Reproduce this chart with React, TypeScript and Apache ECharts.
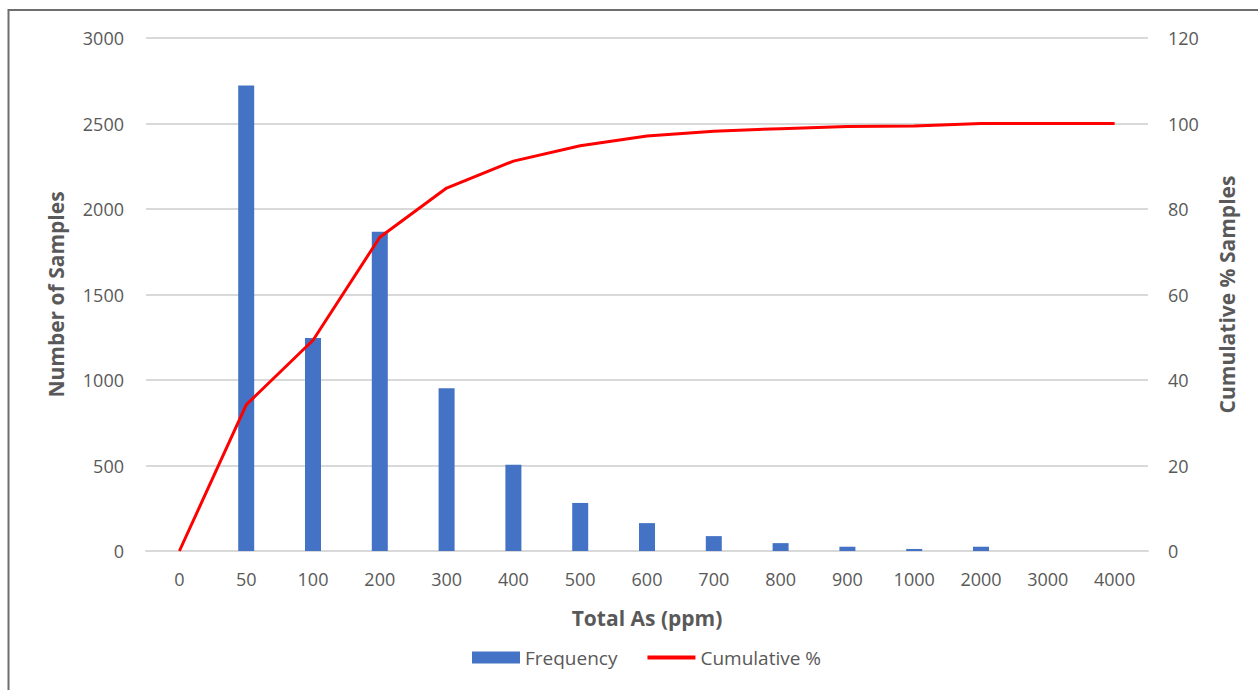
import React, { useEffect, useRef } from "react";
import * as echarts from "echarts";

// Total As (ppm) bins
const categories = ["0", "50", "100", "200", "300", "400", "500", "600", "700", "800", "900", "1000", "2000", "3000", "4000"];
// Number of samples in each bin
const frequency = [0, 2722, 1246, 1867, 952, 505, 281, 163, 87, 46, 25, 12, 25, 0, 0];
// Cumulative percentage of samples
const cumulative = [0, 34.2, 49.3, 73.4, 84.9, 91.2, 94.8, 97.1, 98.2, 98.8, 99.3, 99.4, 100, 100, 100];

const leftTicks = { min: 0, max: 3000, interval: 500 };
const rightTicks = { min: 0, max: 120, interval: 20 };

const FONT = "'Open Sans', 'Noto Sans', sans-serif";
const TEXT = "#595959";

export default function App() {
  const ref = useRef<HTMLDivElement>(null);

  useEffect(() => {
    if (!ref.current) return;
    const chart = echarts.init(ref.current, undefined, { renderer: "svg" });
    const titleStyle = { fontSize: 21, fontWeight: "bold", color: TEXT, fontFamily: FONT };
    const tickStyle = { fontSize: 18, color: TEXT, fontFamily: FONT };
    chart.setOption({
      animation: false,
      backgroundColor: "#ffffff",
      textStyle: { fontFamily: FONT },
      graphic: [
        {
          type: "rect",
          shape: { x: 8.5, y: 10, width: 1270, height: 700 },
          style: { fill: "none", stroke: "#6e6e6e", lineWidth: 2 },
          silent: true,
        },
      ],
      grid: { left: 146, right: 110, top: 38, bottom: 139, containLabel: false },
      legend: {
        bottom: 18,
        left: 467,
        itemWidth: 48,
        itemHeight: 12,
        itemGap: 30,
        textStyle: { fontSize: 19, color: TEXT, fontFamily: FONT },
        data: [
          { name: "Frequency", icon: "rect" },
          { name: "Cumulative %", icon: "path://M0,0H48V4H0Z" },
        ],
      },
      xAxis: {
        type: "category",
        data: categories,
        boundaryGap: true,
        name: "Total As (ppm)",
        nameLocation: "middle",
        nameGap: 56,
        nameTextStyle: titleStyle,
        axisLine: { show: true, lineStyle: { color: "#d9d9d9", width: 2 } },
        axisTick: { show: false },
        axisLabel: { ...tickStyle, margin: 19, interval: 0 },
      },
      yAxis: [
        {
          type: "value",
          ...leftTicks,
          name: "Number of Samples",
          nameLocation: "middle",
          nameGap: 80,
          nameTextStyle: titleStyle,
          axisLine: { show: false },
          axisTick: { show: false },
          axisLabel: { ...tickStyle, margin: 22, formatter: (v: number) => String(v) },
          splitLine: { lineStyle: { color: "#d9d9d9", width: 2 } },
        },
        {
          type: "value",
          ...rightTicks,
          name: "Cumulative % Samples",
          nameLocation: "middle",
          nameGap: 68,
          nameTextStyle: titleStyle,
          axisLine: { show: false },
          axisTick: { show: false },
          axisLabel: { ...tickStyle, margin: 20 },
          splitLine: { show: false },
        },
      ],
      series: [
        {
          name: "Frequency",
          type: "bar",
          data: frequency,
          yAxisIndex: 0,
          barWidth: 16,
          itemStyle: { color: "#4472C4" },
        },
        {
          name: "Cumulative %",
          type: "line",
          data: cumulative,
          yAxisIndex: 1,
          symbol: "none",
          lineStyle: { color: "#FF0000", width: 3 },
          itemStyle: { color: "#FF0000" },
        },
      ],
    });
    return () => chart.dispose();
  }, []);

  return (
    <div
      ref={ref}
      style={{ position: "fixed", left: 0, top: 0, width: 1258, height: 690 }}
    />
  );
}
